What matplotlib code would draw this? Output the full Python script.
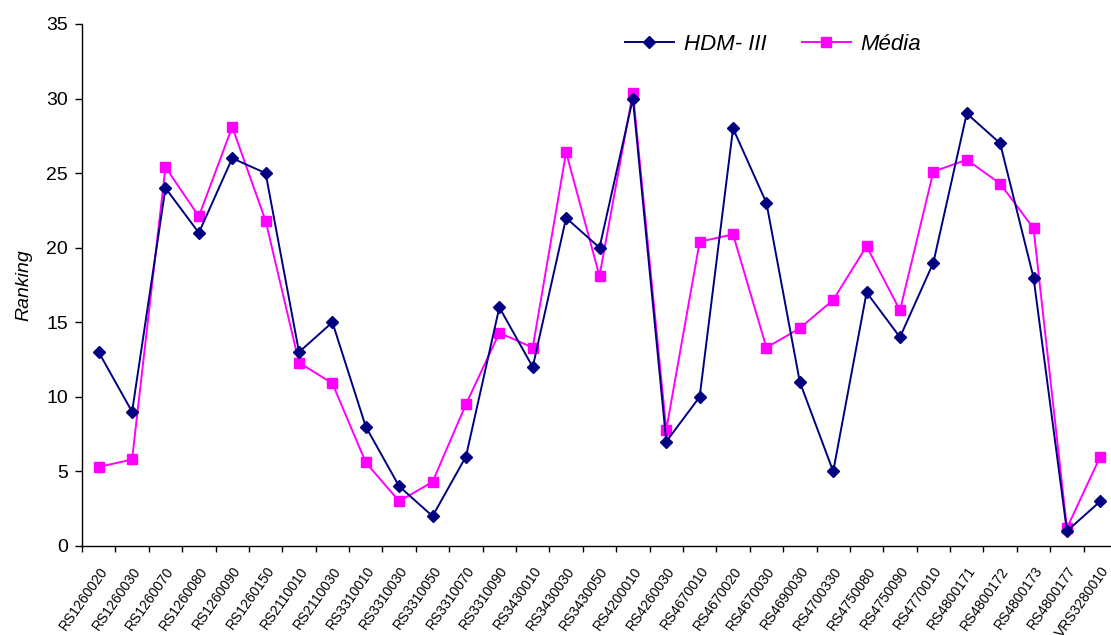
import matplotlib
matplotlib.use("Agg")
import matplotlib.pyplot as plt
import numpy as np

stations = ["RS1260020", "RS1260030", "RS1260070", "RS1260080", "RS1260090",
            "RS1260150", "RS2110010", "RS2110030", "RS3310010", "RS3310030",
            "RS3310050", "RS3310070", "RS3310090", "RS3430010", "RS3430030",
            "RS3430050", "RS4200010", "RS4260030", "RS4670010", "RS4670020",
            "RS4670030", "RS4690030", "RS4700330", "RS4750080", "RS4750090",
            "RS4770010", "RS4800171", "RS4800172", "RS4800173", "RS4800177",
            "VRS3280010"]
hdm = [13, 9, 24, 21, 26, 25, 13, 15, 8, 4, 2, 6, 16, 12, 22, 20, 30, 7, 10,
       28, 23, 11, 5, 17, 14, 19, 29, 27, 18, 1, 3]
media = [5.3, 5.8, 25.4, 22.1, 28.1, 21.8, 12.3, 10.9, 5.6, 3.0, 4.3, 9.5,
         14.3, 13.3, 26.4, 18.1, 30.4, 7.8, 20.4, 20.9, 13.3, 14.6, 16.5, 20.1,
         15.8, 25.1, 25.9, 24.3, 21.3, 1.2, 6.0]
y_ticks = [0, 5, 10, 15, 20, 25, 30, 35]

plt.rcParams['font.family'] = ['Liberation Sans', 'DejaVu Sans']

fig = plt.figure(figsize=(11.11, 6.35), dpi=100)
ax = fig.add_axes([82 / 1111, 89 / 635, 1035 / 1111, 522 / 635])

x = np.arange(len(stations))
ax.plot(x, hdm, color='#000080', lw=1.4, marker='D', markersize=6.5,
        label='HDM- III', clip_on=False, zorder=3)
ax.plot(x, media, color='#FF00FF', lw=1.4, marker='s', markersize=7,
        label='Média', clip_on=False, zorder=2)

ax.set_xlim(-0.5, len(stations) - 0.5)
ax.set_ylim(0, 35)
ax.set_yticks(y_ticks)
ax.tick_params(axis='y', labelsize=14, direction='out', length=5, width=1,
               pad=5)

ax.set_xticks(x)
ax.set_xticklabels(stations, rotation=55, ha='right', rotation_mode='anchor',
                   fontsize=10)
ax.tick_params(axis='x', which='major', length=0, pad=13)
ax.set_xticks(np.arange(-0.5, len(stations), 1), minor=True)
ax.tick_params(axis='x', which='minor', direction='out', length=4, width=1)

for s in ['top', 'right']:
    ax.spines[s].set_visible(False)
for s in ['left', 'bottom']:
    ax.spines[s].set_linewidth(1.0)

ax.set_ylabel('Ranking', fontsize=14, style='italic', labelpad=10)

leg = ax.legend(loc='upper left', bbox_to_anchor=(0.505, 1.02), ncol=2,
                frameon=False, prop={'size': 16, 'style': 'italic'},
                handlelength=2.2, columnspacing=1.6, handletextpad=0.45)

fig.savefig('out.png', dpi=100)
